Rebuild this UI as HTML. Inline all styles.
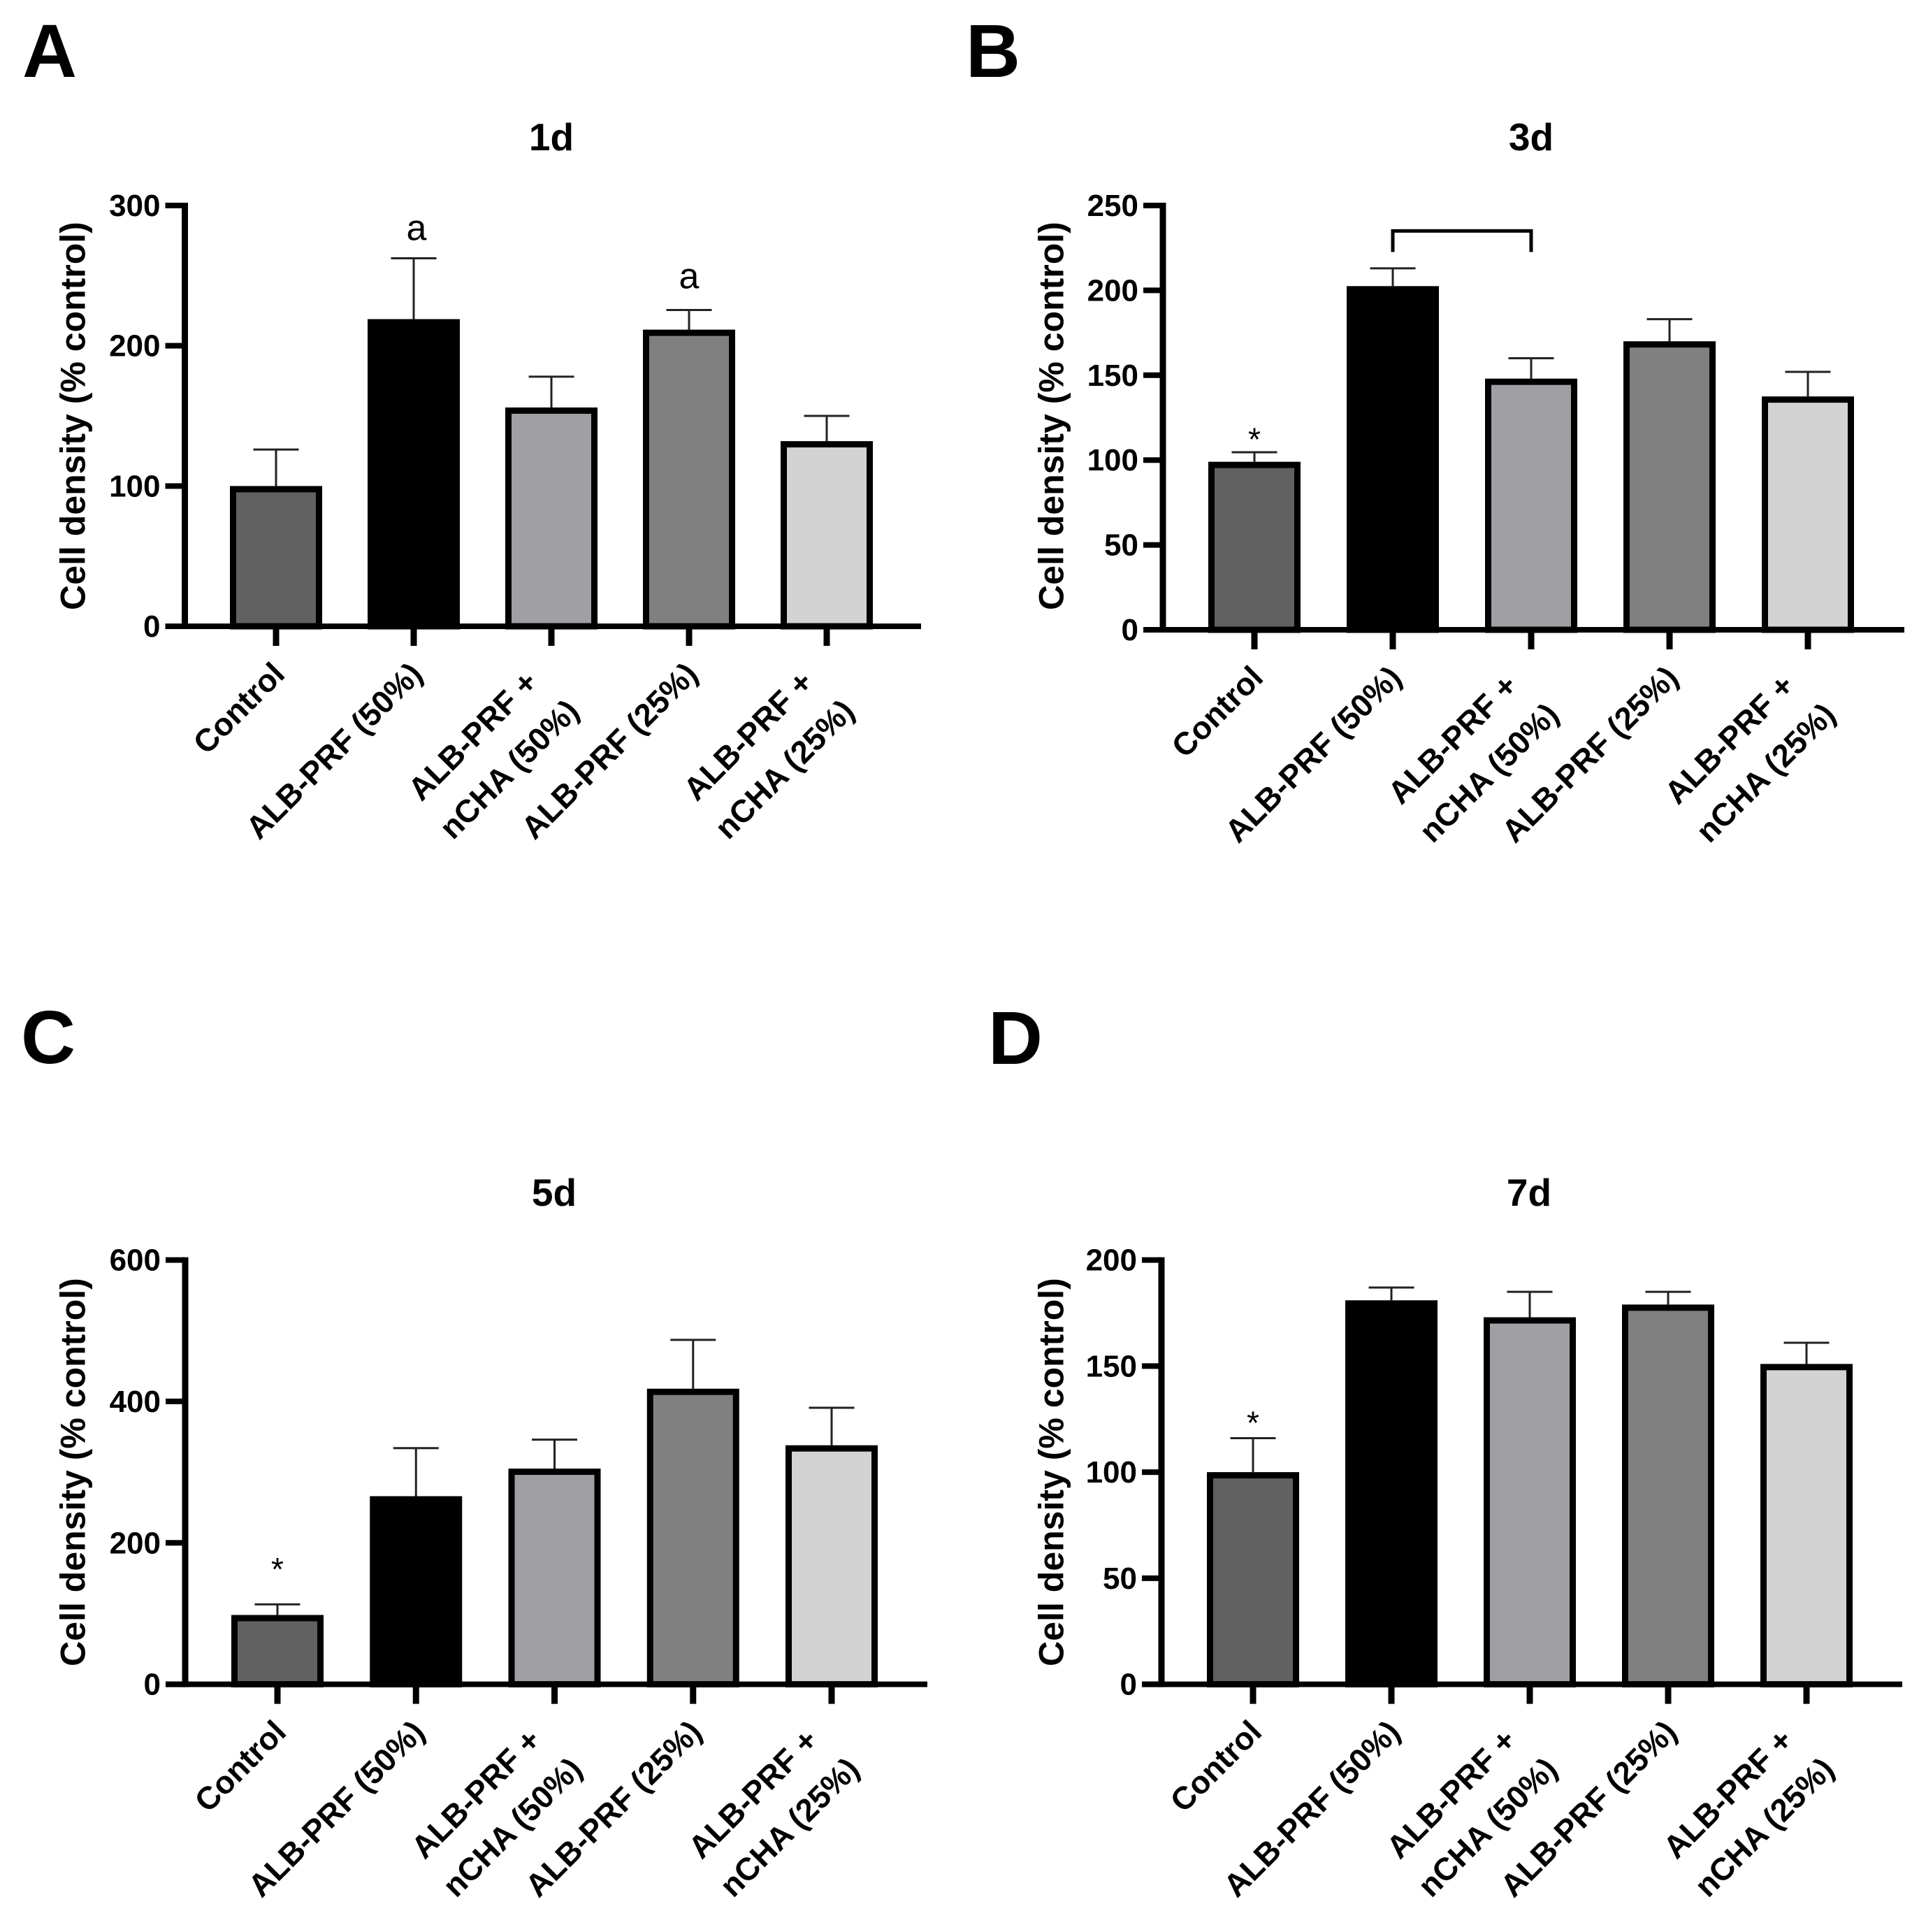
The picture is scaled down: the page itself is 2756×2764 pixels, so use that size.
<!DOCTYPE html>
<html lang="en">
<head>
<meta charset="utf-8">
<title>Cell density panels</title>
<style>
html,body{margin:0;padding:0;background:#fff;width:2756px;height:2764px;overflow:hidden}
svg{display:block}
text{font-family:"Liberation Sans",Arial,sans-serif;fill:#000}
</style>
</head>
<body>
<svg id="figure" xmlns="http://www.w3.org/2000/svg" width="2756" height="2764" viewBox="0 0 2756 2764">
  <rect width="2756" height="2764" fill="#ffffff"/>
</svg>
<script>
const categories = ['Control', 'ALB-PRF (50%)', 'ALB-PRF +\nnCHA (50%)', 'ALB-PRF (25%)', 'ALB-PRF +\nnCHA (25%)'];
const barColors = ['#616161', '#000000', '#a09fa4', '#808080', '#d3d3d3'];

const values1d = [100, 219, 156, 211.5, 132];
const errors1d = [126, 262.4, 178, 225.5, 150];
const ticks1d = [0, 100, 200, 300];

const values3d = [99, 202.5, 148, 170, 137.5];
const errors3d = [104.6, 213, 160, 183, 152];
const ticks3d = [0, 50, 100, 150, 200, 250];

const values5d = [98, 266, 305, 418, 338];
const errors5d = [113, 334, 346, 487, 391];
const ticks5d = [0, 200, 400, 600];

const values7d = [100, 181, 173, 179, 151];
const errors7d = [116, 187, 185, 185, 161];
const ticks7d = [0, 50, 100, 150, 200];

const notes1d = [{cat: 1.02, value: 275.4, text: 'a'}, {cat: 3, value: 241, text: 'a'}];
const notes3d = [{cat: 0, value: 105.7, text: '*'}];
const notes5d = [{cat: 0, value: 147, text: '*'}];
const notes7d = [{cat: 0, value: 118, text: '*'}];
const bracket3d = {from: 1, to: 2, top: 235, bottom: 222.6};

const panels = [
  {id: 'a', letter: 'A', title: '1d', values: values1d, errors: errors1d, ticks: ticks1d, notes: notes1d, bracket: null,
   letterX: 32, letterY: 110, titleX: 789, titleY: 215, labelX: 121.5, labelY: 595,
   axisX: 264.5, axisRight: 1318, top: 294, base: 896, first: 395, step: 197},
  {id: 'b', letter: 'B', title: '3d', values: values3d, errors: errors3d, ticks: ticks3d, notes: notes3d, bracket: bracket3d,
   letterX: 1382, letterY: 110, titleX: 2191, titleY: 215, labelX: 1521.5, labelY: 595,
   axisX: 1664, axisRight: 2725, top: 294, base: 901, first: 1795, step: 198},
  {id: 'c', letter: 'C', title: '5d', values: values5d, errors: errors5d, ticks: ticks5d, notes: notes5d, bracket: null,
   letterX: 30, letterY: 1521, titleX: 793, titleY: 1725, labelX: 121.5, labelY: 2106,
   axisX: 265, axisRight: 1327, top: 1802.6, base: 2409.6, first: 397, step: 198.25},
  {id: 'd', letter: 'D', title: '7d', values: values7d, errors: errors7d, ticks: ticks7d, notes: notes7d, bracket: null,
   letterX: 1414, letterY: 1522, titleX: 2188, titleY: 1725, labelX: 1521.5, labelY: 2106,
   axisX: 1662, axisRight: 2722, top: 1802.6, base: 2409.6, first: 1793, step: 198}
];

const NS = 'http://www.w3.org/2000/svg';
const figure = document.getElementById('figure');

function make(parent, tag, attrs, content) {
  const node = document.createElementNS(NS, tag);
  Object.keys(attrs).forEach(function (k) { node.setAttribute(k, attrs[k]); });
  if (content !== undefined) node.textContent = content;
  parent.appendChild(node);
  return node;
}

function drawPanel(p) {
  const maxTick = p.ticks[p.ticks.length - 1];
  const yScale = function (v) { return p.base - (v / maxTick) * (p.base - p.top); };
  const xScale = function (i) { return p.first + i * p.step; };
  const barOuter = 132, barStroke = 9, tickWidth = 8, yAxisWidth = 9, xAxisWidth = 8;

  const g = make(figure, 'g', {});
  
  

  const letter = make(g, 'text', {x: p.letterX, y: p.letterY, 'font-size': 108, 'font-weight': 700}, p.letter);
  
  

  const title = make(g, 'text', {x: p.titleX, y: p.titleY, 'font-size': 55, 'font-weight': 700, 'text-anchor': 'middle'}, p.title);
  
  

  const yTitle = make(g, 'text', {x: 0, y: 0, 'font-size': 50, 'font-weight': 700, 'text-anchor': 'middle',
    transform: 'translate(' + p.labelX + ' ' + p.labelY + ') rotate(-90)'}, 'Cell density (% control)');
  
  

  // error bars are drawn beneath the bars
  p.errors.forEach(function (err, i) {
    const stem = make(g, 'line', {x1: xScale(i), x2: xScale(i), y1: yScale(p.values[i]), y2: yScale(err), stroke: '#222', 'stroke-width': 3});
    
    
    const cap = make(g, 'line', {x1: xScale(i) - 32.5, x2: xScale(i) + 32.5, y1: yScale(err), y2: yScale(err), stroke: '#222', 'stroke-width': 3});
    
    
  });

  p.values.forEach(function (v, i) {
    const bar = make(g, 'rect', {
      x: xScale(i) - barOuter / 2 + barStroke / 2,
      y: yScale(v) + barStroke / 2,
      width: barOuter - barStroke,
      height: p.base - yScale(v) - barStroke / 2,
      fill: barColors[i],
      stroke: '#000',
      'stroke-width': barStroke
    });
    
    
  });

  const yAxis = make(g, 'line', {x1: p.axisX, x2: p.axisX, y1: p.top - tickWidth / 2, y2: p.base + xAxisWidth / 2, stroke: '#000', 'stroke-width': yAxisWidth});
  
  

  const xAxis = make(g, 'line', {x1: p.axisX - 28, x2: p.axisRight, y1: p.base, y2: p.base, stroke: '#000', 'stroke-width': xAxisWidth});
  
  

  p.ticks.forEach(function (t) {
    const mark = make(g, 'line', {x1: p.axisX - 28, x2: p.axisX, y1: yScale(t), y2: yScale(t), stroke: '#000', 'stroke-width': tickWidth});
    
    
    const label = make(g, 'text', {x: p.axisX - 35, y: yScale(t) + 15, 'font-size': 44, 'font-weight': 700, 'text-anchor': 'end'}, String(t));
    
    
  });

  categories.forEach(function (name, i) {
    const cx = xScale(i);
    const mark = make(g, 'line', {x1: cx, x2: cx, y1: p.base, y2: p.base + 28, stroke: '#000', 'stroke-width': 9});
    
    

    const lines = name.split('\n');
    const offsets = lines.length === 2 ? [[-17, 83], [42, 124]] : [[15, 71]];
    lines.forEach(function (line, j) {
      const lx = cx + offsets[j][0];
      const ly = p.base + offsets[j][1];
      const label = make(g, 'text', {x: 0, y: 0, 'font-size': 45.5, 'font-weight': 700, 'text-anchor': 'end',
        transform: 'translate(' + lx + ' ' + ly + ') rotate(-45)'}, line);
      
      
    });
  });

  p.notes.forEach(function (n) {
    const size = n.text === 'a' ? 52 : 46;
    const note = make(g, 'text', {x: xScale(n.cat), y: yScale(n.value), 'font-size': size, 'text-anchor': 'middle'}, n.text);
    
    
  });

  if (p.bracket) {
    const b = p.bracket;
    const d = 'M' + xScale(b.from) + ' ' + yScale(b.bottom) +
              'V' + yScale(b.top) + 'H' + xScale(b.to) + 'V' + yScale(b.bottom);
    const bracket = make(g, 'path', {d: d, fill: 'none', stroke: '#000', 'stroke-width': 5});
    
    
  }
}

panels.forEach(drawPanel);
</script>
</body>
</html>
